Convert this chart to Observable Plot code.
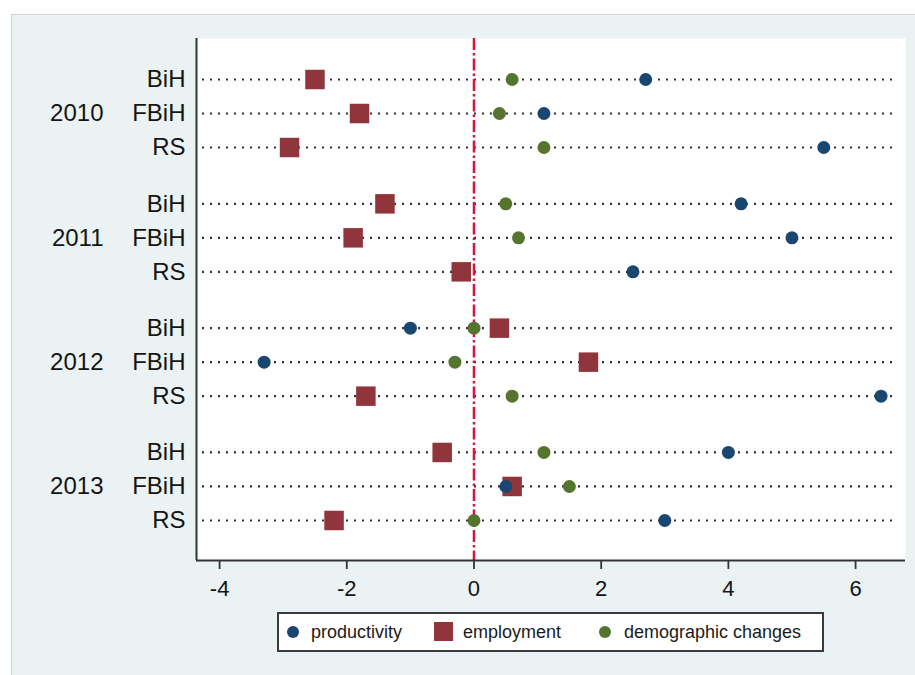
<!DOCTYPE html>
<html>
<head>
<meta charset="utf-8">
<script src="https://cdn.jsdelivr.net/npm/d3@7"></script>
<script src="https://cdn.jsdelivr.net/npm/@observablehq/plot@0.6"></script>
<style>
  html, body { margin: 0; padding: 0; width: 915px; height: 675px; overflow: hidden; background: #ffffff; font-family: "Liberation Sans", Arial, sans-serif; }
  #bg { position: absolute; left: 11px; top: 14px; width: 920px; height: 680px; background: #eaf2f3; border: 1px solid #cfd3d5; }
  #chart { position: absolute; left: 0; top: 0; }
  #legend { position: absolute; left: 277px; top: 612px; width: 547px; height: 40px; box-sizing: border-box; background: #ffffff; border: 2px solid #3a3a3a; }
  #legend .item { position: absolute; top: 0; line-height: 36px; font-size: 18px; color: #1a1a1a; white-space: nowrap; }
  #legend .mk { position: absolute; }
</style>
</head>
<body>
<div id="bg"></div>
<div id="chart"></div>
<div id="legend"></div>
<script>
// ---- data ----
const years = ["2010", "2011", "2012", "2013"];
const regions = ["BiH", "FBiH", "RS"];
const productivity = [2.7, 1.1, 5.5, 4.2, 5.0, 2.5, -1.0, -3.3, 6.4, 4.0, 0.5, 3.0];
const employment = [-2.5, -1.8, -2.9, -1.4, -1.9, -0.2, 0.4, 1.8, -1.7, -0.5, 0.6, -2.2];
const demographic = [0.6, 0.4, 1.1, 0.5, 0.7, -0.2, 0.0, -0.3, 0.6, 1.1, 1.5, 0.0];
const xTicks = [-4, -2, 0, 2, 4, 6];
const seriesNames = ["productivity", "employment", "demographic changes"];
const seriesColors = ["#1a476f", "#90353b", "#55752f"];

// ---- layout: categorical rows with a larger gap between year groups ----
const GROUP_STEP = 3.656; // row units between year groups (1 unit = one row)
const rows = [];
years.forEach((yr, g) => regions.forEach((rg, r) => {
  const i = g * regions.length + r;
  rows.push({year: yr, region: rg, pos: g * GROUP_STEP + r,
    productivity: productivity[i], employment: employment[i], demographic: demographic[i]});
}));
const groups = years.map((yr, g) => ({year: yr, pos: g * GROUP_STEP + 1}));
const yLo = -1.206;
const yHi = (years.length - 1) * GROUP_STEP + 2 + 1.177;
const xDomain = [-4.363, 6.785];
const textColor = "#141414";
const axisColor = "#333333";

const plot = Plot.plot({
  width: 915,
  height: 600,
  marginLeft: 196,
  marginRight: 10,
  marginTop: 38,
  marginBottom: 40,
  style: {background: "transparent", fontFamily: "'Liberation Sans', Arial, sans-serif", color: textColor},
  x: {domain: xDomain, axis: null},
  y: {domain: [yLo, yHi], reverse: true, axis: null},
  marks: [
    Plot.frame({fill: "white", stroke: "none"}),
    Plot.ruleY(rows, {y: "pos", stroke: "#333333", strokeWidth: 2.2, strokeDasharray: "2,6", insetLeft: 6, insetRight: 7}),
    Plot.ruleX([0], {stroke: "#d6143e", strokeWidth: 2.5, strokeDasharray: "12,3,2.5,3"}),
    Plot.dot(rows, {x: "demographic", y: "pos", r: 6.5, fill: seriesColors[2]}),
    Plot.dot(rows, {x: "employment", y: "pos", symbol: "square", r: 11, fill: seriesColors[1]}),
    Plot.dot(rows, {x: "productivity", y: "pos", r: 6.5, fill: seriesColors[0]}),
    Plot.ruleX([xDomain[0]], {stroke: axisColor, strokeWidth: 2}),
    Plot.ruleY([yHi], {stroke: axisColor, strokeWidth: 2}),
    Plot.axisX({ticks: xTicks, tickSize: 9, tickPadding: 11, fontSize: 22, label: null, stroke: axisColor, strokeWidth: 1.8, fill: textColor, tickFormat: d => d < 0 ? "-" + Math.abs(d) : String(d)}),
    Plot.text(rows, {y: "pos", text: "region", frameAnchor: "left", textAnchor: "end", dx: -11, fontSize: 24, fill: textColor}),
    Plot.text(groups, {y: "pos", text: "year", frameAnchor: "left", textAnchor: "end", dx: -93, fontSize: 24, fill: textColor})
  ]
});
document.getElementById("chart").appendChild(plot);

// ---- legend ----
const legend = document.getElementById("legend");
const legendSpec = [
  {mk: "circle", mkLeft: 8, textLeft: 32},
  {mk: "square", mkLeft: 155, textLeft: 184},
  {mk: "circle", mkLeft: 320, textLeft: 345}
];
seriesNames.forEach((name, i) => {
  const s = legendSpec[i];
  const m = document.createElement("div");
  m.className = "mk";
  if (s.mk === "circle") {
    Object.assign(m.style, {left: s.mkLeft + "px", top: "12px", width: "12px", height: "12px", borderRadius: "50%", background: seriesColors[i]});
  } else {
    Object.assign(m.style, {left: s.mkLeft + "px", top: "8px", width: "19px", height: "19px", background: seriesColors[i]});
  }
  legend.appendChild(m);
  const t = document.createElement("div");
  t.className = "item";
  t.style.left = s.textLeft + "px";
  t.textContent = name;
  legend.appendChild(t);
});
</script>
</body>
</html>
